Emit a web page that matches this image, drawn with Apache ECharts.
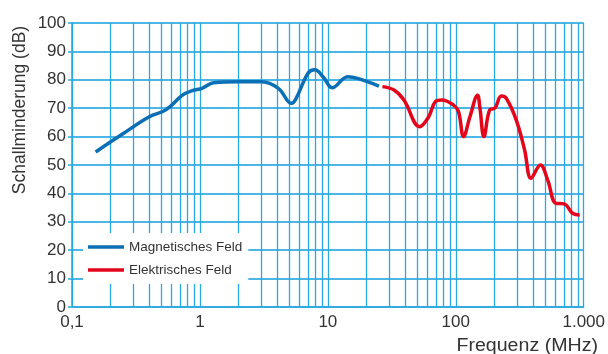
<!DOCTYPE html>
<html>
<head>
<meta charset="utf-8">
<script src="https://cdn.jsdelivr.net/npm/echarts@6/dist/echarts.min.js"></script>
<style>html,body{margin:0;padding:0;background:#fff}#c{width:608px;height:354px}</style>
</head>
<body>
<div id="c"></div>
<script>
// Frequency (MHz) and attenuation (dB)
const magFreq = [0.153, 0.25, 0.402, 0.542, 0.73, 0.871, 1.04, 1.28, 2.0, 3.04, 4.1, 5.2, 5.6, 7.0, 7.89, 9.2, 10.8, 14.3, 17.1, 25.1];
const magVal  = [54.6, 61.0, 67.0, 69.4, 74.6, 76.2, 77.0, 79.0, 79.3, 79.3, 77.0, 71.7, 73.1, 82.3, 83.5, 81.0, 77.2, 81.1, 80.5, 77.8];
const elFreq = [26.7, 32.9, 39.3, 52.3, 61.4, 69.2, 77.9, 96, 105, 115, 129, 148, 154, 166, 184, 202, 227, 248, 297, 345, 388, 458, 523, 607, 703, 817, 931];
const elVal  = [77.6, 76.4, 72.9, 63.5, 67.0, 72.3, 72.9, 71.1, 68.8, 60.0, 67.0, 74.6, 70.5, 60.0, 69.4, 70.0, 74.3, 73.5, 65.8, 55.3, 45.3, 50.0, 44.7, 36.5, 36.3, 33.0, 32.4];
const minorGrid = [0.2,0.3,0.4,0.5,0.6,0.7,0.8,0.9, 2,3,4,5,6,7,8,9, 20,30,40,50,60,70,80,90, 200,300,400,500,600,700,800,900];
const xTickLabels = {0.1: '0,1', 1: '1', 10: '10', 100: '100', 1000: '1.000'};
const seriesNames = ['Magnetisches Feld', 'Elektrisches Feld'];
const yTitle = 'Schallminderung (dB)';
const xTitle = 'Frequenz (MHz)';

const gridBlue = '#2aa8e0';
const font = 'Liberation Sans, Arial, sans-serif';
const chart = echarts.init(document.getElementById('c'), null, {renderer: 'canvas'});
chart.setOption({
  animation: false,
  backgroundColor: '#fff',
  grid: {left: 72, right: 21, top: 23, bottom: 47},
  xAxis: {
    type: 'log', logBase: 10, min: 0.1, max: 1000,
    axisLine: {lineStyle: {color: gridBlue, width: 1.5}},
    axisTick: {show: false},
    axisLabel: {fontSize: 17, color: '#333', fontFamily: font, margin: 7,
      formatter: v => { for (const k in xTickLabels) { if (Math.abs(Math.log10(v) - Math.log10(+k)) < 1e-6) return xTickLabels[k]; } return ''; }},
    splitLine: {show: true, lineStyle: {color: gridBlue, width: 1.3}}
  },
  yAxis: {
    type: 'value', min: 0, max: 100, interval: 10,
    axisLine: {show: true, lineStyle: {color: gridBlue, width: 1.5}},
    axisTick: {show: true, inside: false, length: 4, lineStyle: {color: gridBlue, width: 1.5}},
    axisLabel: {fontSize: 17, color: '#333', fontFamily: font, margin: 6},
    splitLine: {show: true, lineStyle: {color: '#4cb6e6', width: 1.8}}
  },
  legend: {
    data: seriesNames, orient: 'vertical', left: 83, top: 233, z: 20,
    backgroundColor: '#fff', padding: [7, 6, 7, 5], itemGap: 9,
    icon: 'rect', itemWidth: 36, itemHeight: 3.5,
    textStyle: {fontSize: 13.5, color: '#333', fontFamily: font}
  },
  graphic: [
    {type: 'text', x: 20, y: 110, rotation: Math.PI / 2,
     style: {text: yTitle, fontSize: 17.5, fill: '#333', fontFamily: font, align: 'center', verticalAlign: 'middle'}},
    {type: 'text', x: 598, y: 346, scaleX: 1.12,
     style: {text: xTitle, fontSize: 17.5, fill: '#333', fontFamily: font, align: 'right', verticalAlign: 'middle'}}
  ],
  series: [
    {type: 'line', name: 'grid', data: [], silent: true, z: 1,
     markLine: {silent: true, symbol: 'none', label: {show: false}, z: 1,
       lineStyle: {color: gridBlue, width: 1.3, type: 'solid'},
       emphasis: {disabled: true},
       data: minorGrid.map(v => ({xAxis: v}))}},
    {type: 'line', name: seriesNames[0], data: magFreq.map((f, i) => [f, magVal[i]]),
     smooth: 0.4, showSymbol: false, z: 5, color: '#0b6fb6',
     lineStyle: {color: '#0b6fb6', width: 3.5}},
    {type: 'line', name: seriesNames[1], data: elFreq.map((f, i) => [f, elVal[i]]),
     smooth: 0.4, showSymbol: false, z: 5, color: '#e3051b',
     lineStyle: {color: '#e3051b', width: 3.5}}
  ]
});
</script>
</body>
</html>
